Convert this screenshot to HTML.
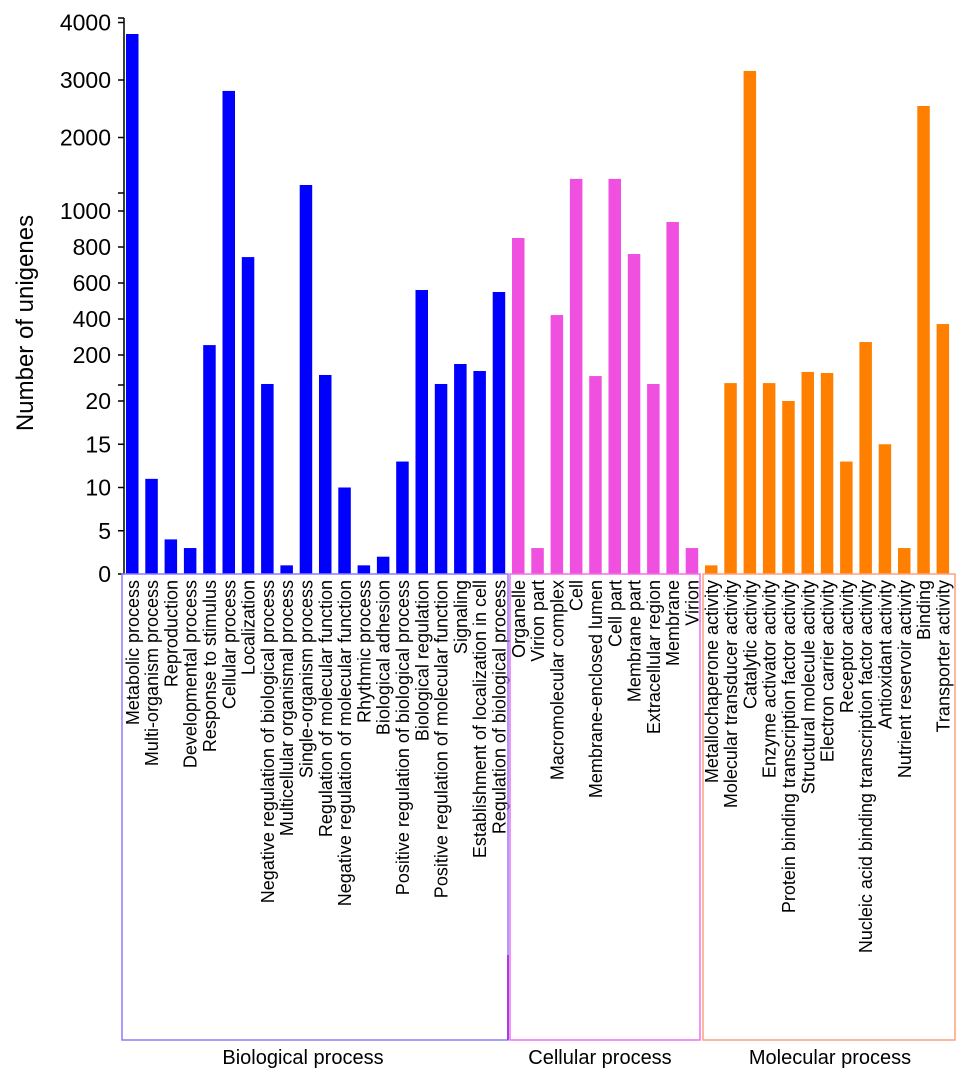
<!DOCTYPE html>
<html><head><meta charset="utf-8"><style>
body{margin:0;background:#fff;}
svg text{font-family:"Liberation Sans",Arial,sans-serif;fill:#000;}
</style></head><body>
<svg id="chart" width="969" height="1084" xmlns="http://www.w3.org/2000/svg"></svg>
<script>
const categories=["Metabolic process","Multi-organism process","Reproduction","Developmental process","Response to stimulus","Cellular process","Localization","Negative regulation of biological process","Multicellular organismal process","Single-organism process","Regulation of molecular function","Negative regulation of molecular function","Rhythmic process","Biological adhesion","Positive regulation of biological process","Biological regulation","Positive regulation of molecular function","Signaling","Establishment of localization in cell","Regulation of biological process",
"Organelle","Virion part","Macromolecular complex","Cell","Membrane-enclosed lumen","Cell part","Membrane part","Extracellular region","Membrane","Virion",
"Metallochaperone activity","Molecular transducer activity","Catalytic activity","Enzyme activator activity","Protein binding transcription factor activity","Structural molecule activity","Electron carrier activity","Receptor activity","Nucleic acid binding transcription factor activity","Antioxidant activity","Nutrient reservoir activity","Binding","Transporter activity"];
const values=[3800,11,4,3,255,2810,744,39,1,1174,89,10,1,2,13,561,39,150,111,550,
850,3,422,1280,83,1280,761,39,939,3,
1,44,3157,44,20,106,100,13,272,15,3,2548,372];
const groupNames=["Biological process","Cellular process","Molecular process"];
const groupSizes=[20,10,13];
const groupColors=["#0000ff","#f050e0","#ff8000"];
const boxColors=["#8a7cff","#f070e8","#ffa080"];
const ticks1=[0,5,10,15,20];
const ticks2=[200,400,600,800,1000];
const ticks3=[2000,3000,4000];

const svg=document.getElementById('chart');
const NS="http://www.w3.org/2000/svg";
function mk(t,a,p){const e=document.createElementNS(NS,t);for(const k in a)e.setAttribute(k,a[k]);(p||svg).appendChild(e);return e;}
function yS(v){
  if(v<=20) return 574-v*8.65;
  if(v<=1000) return 355-(v-200)*0.18;
  return 195-(v-1000)*0.0575;
}
const x0=126,step=19.3,bw=12.5;
const ax=mk('line',{x1:124,y1:18,x2:124,y2:574,stroke:'#000','stroke-width':1.5});


const allTicks=[...ticks1,...ticks2,...ticks3];
allTicks.forEach(v=>{
  const y=yS(v);
  const t=mk('line',{x1:118,y1:y,x2:124,y2:y,stroke:'#000','stroke-width':1.5});
  
  
  const l=mk('text',{x:111,y:y+8,'text-anchor':'end','font-size':23});
  l.textContent=v;
  
  
});
[193,385].forEach(y=>{mk('line',{x1:118,y1:y,x2:124,y2:y,stroke:'#000','stroke-width':1.5});});
mk('line',{x1:124,y1:18,x2:118,y2:18,stroke:'#000','stroke-width':1.5});
const yt=mk('text',{x:0,y:0,'text-anchor':'middle','font-size':24,transform:'translate(33,323) rotate(-90)'});
yt.textContent='Number of unigenes';


let gi=0,cnt=0;
categories.forEach((c,i)=>{
  if(cnt>=groupSizes[gi]){gi++;cnt=0;}
  cnt++;
  const x=x0+i*step, y=yS(values[i]);
  const r=mk('rect',{x:x,y:y,width:bw,height:574-y,fill:groupColors[gi]});
  
  
  const cx=x+bw/2+6.5;
  const t=mk('text',{x:0,y:0,'text-anchor':'end','font-size':18,transform:`translate(${cx},580) rotate(-90)`});
  t.textContent=c;
  
  
});
const boxes=[[122,508],[510,700],[703,955]];
const labelX=[303,600,830];
boxes.forEach((b,i)=>{
  const r=mk('rect',{x:b[0],y:574,width:b[1]-b[0],height:466,fill:'none',stroke:boxColors[i],'stroke-width':1.5});
  
  
  const t=mk('text',{x:labelX[i],y:1064,'text-anchor':'middle','font-size':20});
  t.textContent=groupNames[i];
  
  
});
mk('line',{x1:508,y1:955,x2:508,y2:1040,stroke:'#a040e0','stroke-width':2});
</script>
</body></html>
